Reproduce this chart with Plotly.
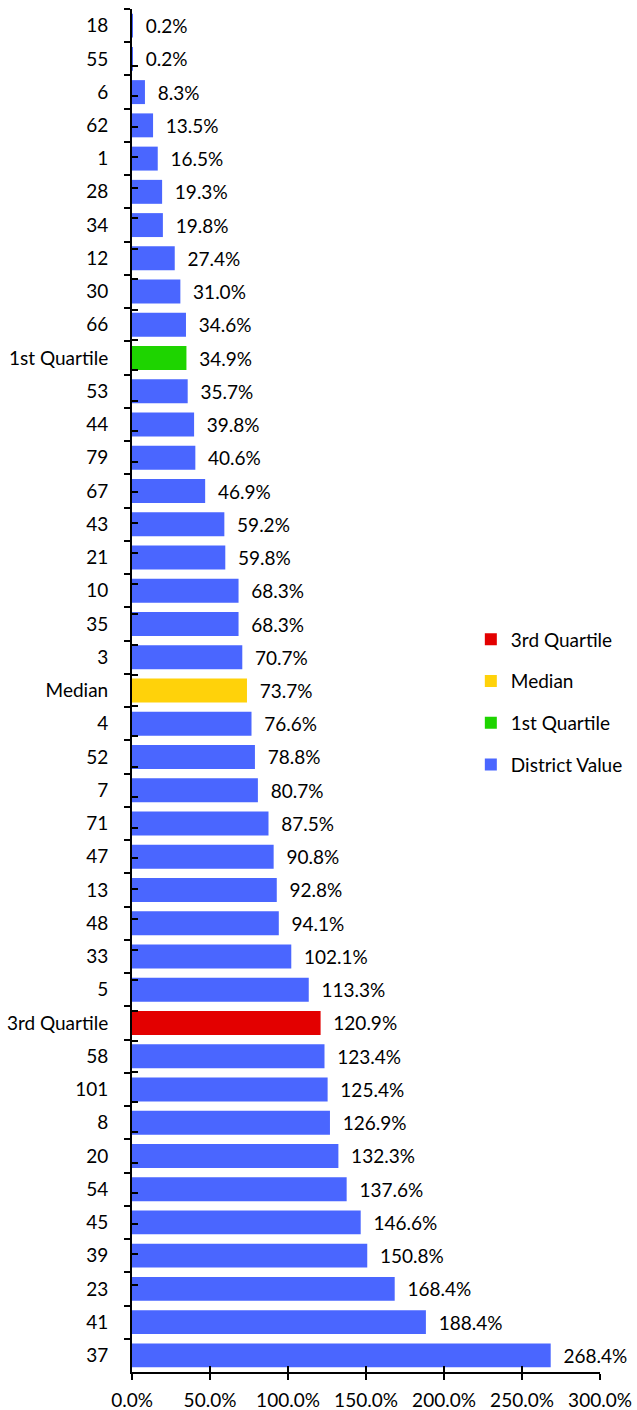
import plotly.graph_objects as go

categories = ["18", "55", "6", "62", "1", "28", "34", "12", "30", "66", "1st Quartile",
              "53", "44", "79", "67", "43", "21", "10", "35", "3", "Median",
              "4", "52", "7", "71", "47", "13", "48", "33", "5", "3rd Quartile",
              "58", "101", "8", "20", "54", "45", "39", "23", "41", "37"]
values = [0.2, 0.2, 8.3, 13.5, 16.5, 19.3, 19.8, 27.4, 31.0, 34.6, 34.9,
          35.7, 39.8, 40.6, 46.9, 59.2, 59.8, 68.3, 68.3, 70.7, 73.7,
          76.6, 78.8, 80.7, 87.5, 90.8, 92.8, 94.1, 102.1, 113.3, 120.9,
          123.4, 125.4, 126.9, 132.3, 137.6, 146.6, 150.8, 168.4, 188.4, 268.4]
series_names = ["3rd Quartile", "Median", "1st Quartile", "District Value"]
colors = {"District Value": "#4A66FF", "1st Quartile": "#1ED400",
          "Median": "#FFD20A", "3rd Quartile": "#E30000"}
x_ticks = [0, 50, 100, 150, 200, 250, 300]
x_tick_labels = ["0.0%", "50.0%", "100.0%", "150.0%", "200.0%", "250.0%", "300.0%"]

FONT = "Lato"
FS = 19
fig = go.Figure()
for name in series_names:
    if name == "District Value":
        xs = [v if c not in series_names else None for c, v in zip(categories, values)]
    else:
        xs = [v if c == name else None for c, v in zip(categories, values)]
    fig.add_trace(go.Bar(
        x=xs, y=categories, orientation="h", name=name,
        marker=dict(color=colors[name], line=dict(width=0)),
        texttemplate="\u00a0\u00a0%{x:.1f}%", textposition="outside",
        textfont=dict(family=FONT, size=FS, color="#000"),
        constraintext="none", cliponaxis=False, legendgroup=name,
        hoverinfo="skip",
    ))
# invisible trace for the overlay axes (crossing ticks)
fig.add_trace(go.Scatter(x=[None] * len(categories), y=categories, xaxis="x2", yaxis="y2",
                         mode="markers", showlegend=False, hoverinfo="skip"))

axis_common = dict(showline=True, linecolor="#000", linewidth=2, ticks="outside",
                   ticklen=6, tickwidth=2, tickcolor="#000", showgrid=False, zeroline=False,
                   automargin=False)
fig.update_layout(
    width=637, height=1410, autosize=False,
    margin=dict(l=132, r=37, t=9, b=38),
    paper_bgcolor="white", plot_bgcolor="white",
    barmode="overlay", bargap=0.28,
    font=dict(family=FONT, size=FS, color="#000"),
    xaxis=dict(range=[0, 300], tickvals=x_ticks, ticktext=x_tick_labels, tickangle=0,
               tickfont=dict(size=FS), ticklabelstandoff=4, **axis_common),
    xaxis2=dict(range=[0, 300], tickvals=x_ticks, overlaying="x", anchor="y", side="bottom",
                showticklabels=False, showline=False, ticks="inside", ticklen=6,
                tickwidth=2, tickcolor="#000", showgrid=False, zeroline=False),
    yaxis=dict(type="category", categoryorder="array", categoryarray=categories,
               autorange="reversed", tickson="boundaries", tickfont=dict(size=FS),
               ticklabelstandoff=18, **axis_common),
    yaxis2=dict(type="category", categoryorder="array", categoryarray=categories,
                autorange="reversed", tickson="boundaries", overlaying="y", anchor="x",
                side="left", showticklabels=False, showline=False, ticks="inside",
                ticklen=6, tickwidth=2, tickcolor="#000", showgrid=False, zeroline=False),
    legend=dict(x=0.724, xanchor="left", y=0.4916, yanchor="middle",
                traceorder="grouped", tracegroupgap=14,
                font=dict(family=FONT, size=FS), bgcolor="rgba(0,0,0,0)",
                itemwidth=30),
    showlegend=True,
)
fig.write_html("out.html",
               config={"displayModeBar": False, "responsive": False},
               post_script="document.body.style.margin='0';document.body.style.padding='0';"
                           "document.body.style.overflow='hidden';"
                           "document.documentElement.style.overflow='hidden';")
